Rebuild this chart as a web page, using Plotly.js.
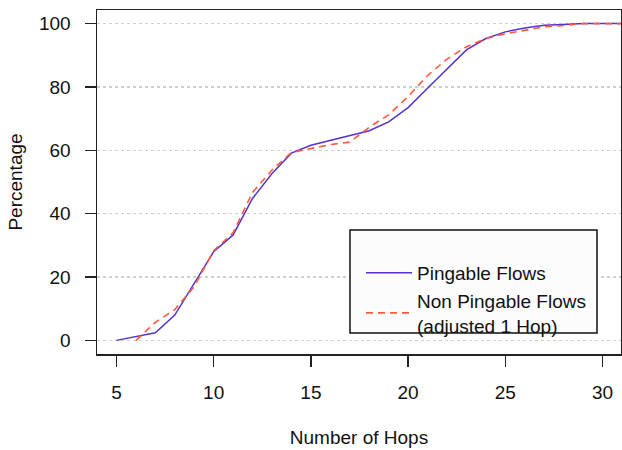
<!DOCTYPE html>
<html>
<head>
<meta charset="utf-8">
<script src="https://cdn.plot.ly/plotly-3.0.1.min.js"></script>
<style>html,body{margin:0;padding:0;background:#fff;}</style>
</head>
<body>
<div id="chart" style="width:622px;height:450px;"></div>
<script>
// Data
const hopsPingable = [5,6,7,8,9,10,11,12,13,14,15,16,17,18,19,20,21,22,23,24,25,26,27,28,29,30,31];
const pctPingable  = [0,1.2,2.4,8.0,17.8,28,33.3,44.8,52.7,59.1,61.6,63.2,64.8,66.2,69,73.5,79.6,85.7,91.7,95.3,97.4,98.6,99.5,99.7,100,100,100];
const hopsNonPingable = [6,7,8,9,10,11,12,13,14,15,16,17,18,19,20,21,22,23,24,25,26,27,28,29,30,31];
const pctNonPingable  = [0,5.7,9.7,17,28.3,34,46.7,53.8,59.3,60.6,61.8,62.6,67.3,71.2,77,83.6,88.8,92.7,95.3,96.8,97.8,99,99.4,100,100,100];
const xTicks = [5,10,15,20,25,30];
const yTicks = [0,20,40,60,80,100];
const seriesNames = ["Pingable Flows", "Non Pingable Flows<br>(adjusted 1 Hop)"];

const FONT = "Liberation Sans, Arial, Helvetica, sans-serif";
const traces = [
  {x: hopsPingable, y: pctPingable, name: seriesNames[0], type: "scatter", mode: "lines",
   line: {color: "#5533cc", width: 1.5}},
  {x: hopsNonPingable, y: pctNonPingable, name: seriesNames[1], type: "scatter", mode: "lines",
   line: {color: "#ff5a3c", width: 1.6, dash: "7px,5px"}}
];

const layout = {
  width: 622, height: 450,
  margin: {l: 97, r: 1, t: 10, b: 96},
  paper_bgcolor: "#ffffff", plot_bgcolor: "#ffffff",
  font: {family: FONT, size: 19, color: "#111"},
  showlegend: true,
  legend: {x: 0.5038, y: 0.2907, xanchor: "left", yanchor: "top",
    bgcolor: "rgba(0,0,0,0)", borderwidth: 0, itemwidth: 46,
    font: {family: FONT, size: 19, color: "#111"}},
  xaxis: {range: [4.0, 30.95], tickvals: xTicks, ticktext: xTicks.map(String),
    showgrid: false, zeroline: false, showline: true, mirror: true,
    linecolor: "#222", linewidth: 1.5, ticks: "outside", ticklen: 11, tickwidth: 1.5, tickcolor: "#222",
    ticklabelstandoff: 10,
    title: {text: "Number of Hops", standoff: 28, font: {family: FONT, size: 19, color: "#111"}}},
  yaxis: {range: [-4.3, 104.3], tickvals: yTicks, ticktext: yTicks.map(String),
    showgrid: true, gridcolor: "#cfcfcf", gridwidth: 1.2, griddash: "3px,3px",
    zeroline: false, showline: true, mirror: true,
    linecolor: "#222", linewidth: 1.5, ticks: "outside", ticklen: 11, tickwidth: 1.5, tickcolor: "#222",
    ticklabelstandoff: 10,
    title: {text: "Percentage", standoff: 11, font: {family: FONT, size: 19, color: "#111"}}},
  shapes: [{type: "rect", xref: "paper", yref: "paper", x0: 0.4828, x1: 0.9542, y0: 0.061, y1: 0.3605,
    fillcolor: "#fcfcfc", line: {color: "#111", width: 1.5}, layer: "above"}]
};

Plotly.newPlot("chart", traces, layout, {displayModeBar: false, staticPlot: true});
</script>
</body>
</html>
